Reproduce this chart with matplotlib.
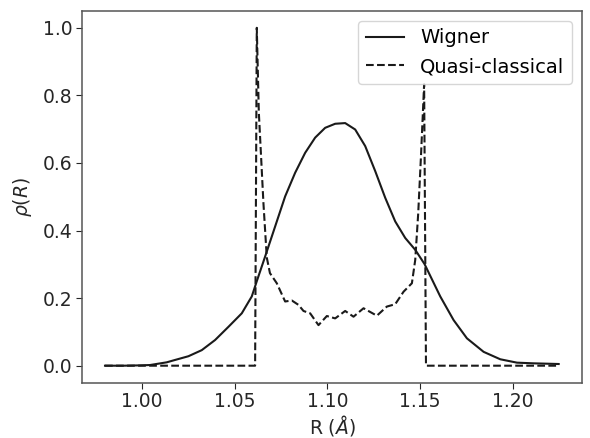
import matplotlib
matplotlib.use("Agg")
import matplotlib.pyplot as plt

# Wigner distribution
wigner_r = [0.980, 0.990, 0.999, 1.0043, 1.0133, 1.0178, 1.0250, 1.0322, 1.0394,
            1.0466, 1.0538, 1.0592, 1.0619, 1.0664, 1.0718, 1.0772, 1.0826,
            1.0880, 1.0934, 1.0988, 1.1042, 1.1096, 1.1150, 1.1204, 1.1258,
            1.1312, 1.1366, 1.1420, 1.1474, 1.1524, 1.1609, 1.1681, 1.1753,
            1.1843, 1.1933, 1.2023, 1.2113, 1.2248]
wigner_rho = [0.0, 0.0, 0.001, 0.002, 0.010, 0.017, 0.028, 0.046, 0.076,
              0.115, 0.155, 0.205, 0.250, 0.323, 0.412, 0.501, 0.571,
              0.630, 0.675, 0.704, 0.716, 0.718, 0.699, 0.650, 0.576,
              0.497, 0.427, 0.378, 0.343, 0.301, 0.205, 0.135, 0.081,
              0.041, 0.019, 0.009, 0.007, 0.005]

# Quasi-classical distribution
qc_r = [0.980, 1.0610, 1.0619, 1.0630, 1.0655, 1.0673, 1.0690, 1.0727, 1.0772,
        1.0808, 1.0844, 1.0871, 1.0907, 1.0952, 1.0997, 1.1042, 1.1096, 1.1141,
        1.1195, 1.1267, 1.1321, 1.1366, 1.1411, 1.1456, 1.1474, 1.1490, 1.1505,
        1.1522, 1.1532, 1.225]
qc_rho = [0.0, 0.0, 1.0, 0.75, 0.48, 0.32, 0.274, 0.244, 0.190, 0.193, 0.180,
          0.162, 0.155, 0.120, 0.147, 0.140, 0.162, 0.145, 0.170, 0.148, 0.175,
          0.182, 0.219, 0.244, 0.313, 0.45, 0.62, 0.833, 0.0, 0.0]

x_ticks = [1.00, 1.05, 1.10, 1.15, 1.20]
y_ticks = [0.0, 0.2, 0.4, 0.6, 0.8, 1.0]

plt.rcParams.update({
    "font.family": ["DejaVu Sans"],
    "font.size": 14,
    "axes.edgecolor": "#555555",
    "axes.linewidth": 1.1,
    "xtick.color": "#262626",
    "ytick.color": "#262626",
    "xtick.labelcolor": "#262626",
    "ytick.labelcolor": "#262626",
    "axes.labelcolor": "#262626",
    "xtick.major.size": 4,
    "ytick.major.size": 4,
    "xtick.major.pad": 3,
    "ytick.major.pad": 3,
})

fig = plt.figure(figsize=(5.9, 4.38), dpi=100)
ax = fig.add_axes([0.1395, 0.1265, 0.8465, 0.8486])

ax.plot(wigner_r, wigner_rho, color="#1a1a1a", lw=1.5, ls="-", label="Wigner")
ax.plot(qc_r, qc_rho, color="#1a1a1a", lw=1.5, ls="--", label="Quasi-classical")

ax.set_xticks(x_ticks)
ax.set_xticklabels([f"{t:.2f}" for t in x_ticks])
ax.set_yticks(y_ticks)
ax.set_yticklabels([f"{t:.1f}" for t in y_ticks])
ax.tick_params(labelsize=13.5)

ax.set_xlabel("R ($Å$)", fontsize=13.5, labelpad=1)
ax.set_ylabel(r"$\rho(R)$", fontsize=13.5, labelpad=6)

leg = ax.legend(loc="upper right", fontsize=14, frameon=True, fancybox=True,
                edgecolor="#cccccc", handlelength=2.0)

fig.savefig("out.png", dpi=100)
